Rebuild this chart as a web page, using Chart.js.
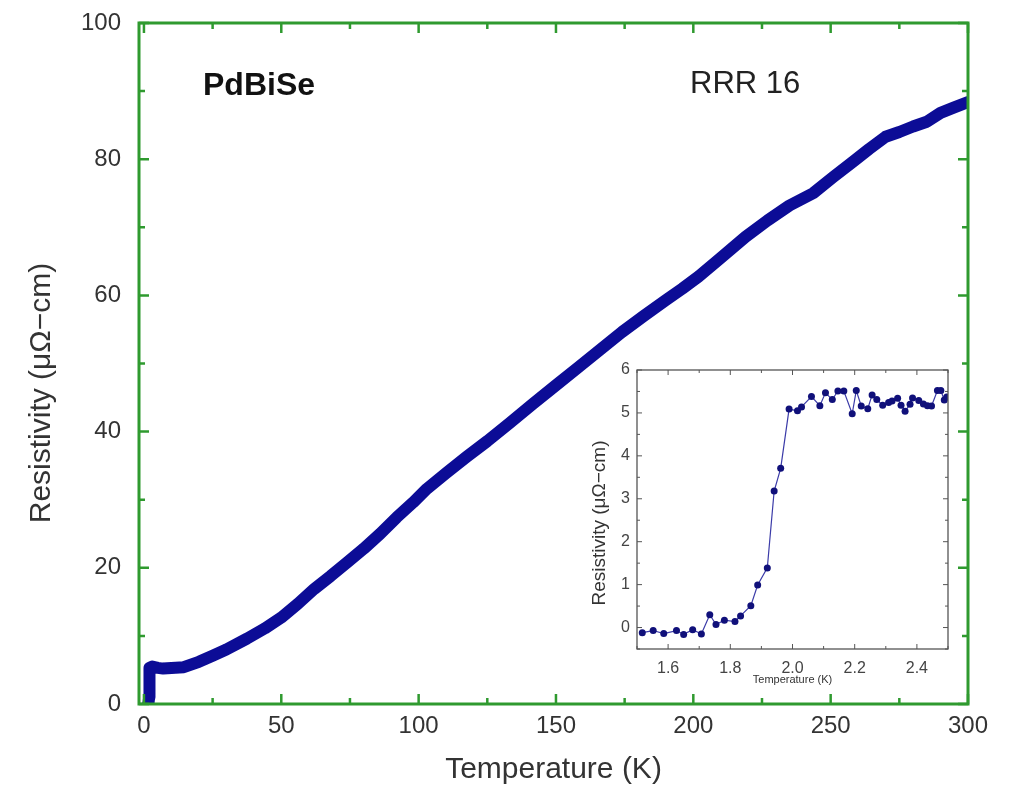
<!DOCTYPE html>
<html>
<head>
<meta charset="utf-8">
<script src="https://cdn.jsdelivr.net/npm/chart.js@4.4.0/dist/chart.umd.min.js"></script>
<style>
  html, body { margin: 0; padding: 0; background: #fff; }
  #wrap { position: relative; width: 1017px; height: 803px; }
  #mainChart { position: absolute; left: 0; top: 0; }
  #insetChart { position: absolute; left: 560px; top: 355px; }
</style>
</head>
<body>
<div id="wrap">
  <canvas id="mainChart" width="1017" height="803"></canvas>
  <canvas id="insetChart" width="400" height="340"></canvas>
</div>
<script>
// main curve (T in K, rho in uOhm-cm)
var mainTemp = [1.5, 1.6, 1.7, 1.8, 1.9, 1.95, 2.0, 2.1, 3, 5, 7, 10, 14.5, 20, 25, 30, 37.5, 44, 50, 56, 62, 68, 74, 80, 86, 92, 98, 103, 110, 117.5, 125, 133, 141.7, 150, 158, 166, 174, 182, 190, 196, 202, 210, 219, 227, 235, 243.6, 251, 258, 264, 270, 275, 280, 285, 290, 295, 300];
var mainRes = [0, 0, 0.1, 0.3, 1.0, 3.4, 4.5, 5.3, 5.5, 5.3, 5.2, 5.3, 5.4, 6.2, 7.1, 8.0, 9.6, 11.1, 12.7, 14.7, 16.9, 18.8, 20.8, 22.8, 25.0, 27.4, 29.6, 31.6, 33.9, 36.3, 38.6, 41.2, 44.1, 46.8, 49.4, 52.0, 54.6, 57.0, 59.3, 61.0, 62.8, 65.5, 68.6, 71.0, 73.2, 75.0, 77.4, 79.6, 81.5, 83.3, 84.0, 84.8, 85.5, 86.8, 87.6, 88.4];

// inset: superconducting transition
var insetTemp = [1.517, 1.552, 1.586, 1.627, 1.650, 1.679, 1.707, 1.734, 1.754, 1.781, 1.815, 1.833, 1.866, 1.888, 1.919, 1.941, 1.962, 1.989, 2.016, 2.029, 2.061, 2.088, 2.106, 2.128, 2.146, 2.165, 2.192, 2.205, 2.221, 2.242, 2.256, 2.271, 2.290, 2.309, 2.320, 2.338, 2.349, 2.362, 2.378, 2.386, 2.406, 2.421, 2.434, 2.447, 2.466, 2.477, 2.488, 2.496];
var insetRes = [-0.12, -0.07, -0.14, -0.07, -0.16, -0.05, -0.15, 0.30, 0.07, 0.17, 0.14, 0.27, 0.51, 0.99, 1.39, 3.18, 3.71, 5.09, 5.05, 5.14, 5.38, 5.17, 5.47, 5.31, 5.51, 5.51, 4.98, 5.52, 5.16, 5.10, 5.42, 5.31, 5.18, 5.24, 5.28, 5.34, 5.18, 5.04, 5.20, 5.35, 5.29, 5.21, 5.17, 5.16, 5.52, 5.52, 5.30, 5.37];

var mainXTicks = [0, 50, 100, 150, 200, 250, 300];
var mainYTicks = [0, 20, 40, 60, 80, 100];
var insetXTicks = [1.6, 1.8, 2.0, 2.2, 2.4];
var insetYTicks = [0, 1, 2, 3, 4, 5, 6];

var FONT = "'Liberation Sans', Arial, sans-serif";

function midpoints(arr, lo, hi) {
  var step = arr[1] - arr[0];
  var out = [];
  for (var v = arr[0] - step / 2; v <= hi + 1e-9; v += step) {
    if (v >= lo - 1e-9) out.push(v);
  }
  return out;
}

// frame with inward ticks on all four sides
function frameTicks(o) {
  return {
    id: o.id,
    afterDraw: function(chart) {
      var ctx = chart.ctx, a = chart.chartArea;
      var xs = chart.scales.x, ys = chart.scales.y;
      ctx.save();
      ctx.strokeStyle = o.color;
      ctx.lineWidth = o.tickWidth;
      ctx.beginPath();
      function xt(list, len) {
        list.forEach(function(v) {
          var p = xs.getPixelForValue(v);
          ctx.moveTo(p, a.bottom); ctx.lineTo(p, a.bottom - len);
          ctx.moveTo(p, a.top); ctx.lineTo(p, a.top + len);
        });
      }
      function yt(list, len) {
        list.forEach(function(v) {
          var p = ys.getPixelForValue(v);
          ctx.moveTo(a.left, p); ctx.lineTo(a.left + len, p);
          ctx.moveTo(a.right, p); ctx.lineTo(a.right - len, p);
        });
      }
      xt(o.xMajor, o.major); xt(o.xMinor, o.minor);
      yt(o.yMajor, o.major); yt(o.yMinor, o.minor);
      ctx.stroke();
      ctx.lineWidth = o.frameWidth;
      ctx.strokeRect(a.left, a.top, a.right - a.left, a.bottom - a.top);
      // y axis title
      ctx.fillStyle = o.textColor;
      ctx.font = o.yTitleFont;
      ctx.textAlign = 'center';
      ctx.textBaseline = 'middle';
      ctx.translate(o.yTitleX, o.yTitleY);
      ctx.rotate(-Math.PI / 2);
      ctx.fillText('Resistivity (μΩ−cm)', 0, 0);
      ctx.restore();
      if (o.extra) o.extra(ctx);
    }
  };
}

new Chart(document.getElementById('mainChart'), {
  type: 'line',
  data: {
    labels: mainTemp,
    datasets: [{
      data: mainTemp.map(function(t, i) { return { x: t, y: mainRes[i] }; }),
      borderColor: '#0c0c96',
      backgroundColor: '#0c0c96',
      borderWidth: 12,
      borderCapStyle: 'round',
      borderJoinStyle: 'round',
      pointRadius: 0,
      tension: 0
    }]
  },
  options: {
    responsive: false,
    animation: false,
    layout: { padding: { left: 0, top: 23, right: 49, bottom: 0 } },
    plugins: { legend: { display: false }, tooltip: { enabled: false } },
    scales: {
      x: {
        type: 'linear', min: -1.8, max: 300,
        afterBuildTicks: function(s) { s.ticks = mainXTicks.map(function(v) { return { value: v }; }); },
        afterFit: function(s) { s.height = 99; },
        grid: { display: false, drawTicks: false },
        border: { display: false },
        ticks: { color: '#333', padding: 8, font: { family: FONT, size: 24 } },
        title: { display: true, text: 'Temperature (K)', color: '#333', padding: { top: 0, bottom: 15 }, font: { family: FONT, size: 30 } }
      },
      y: {
        type: 'linear', min: 0, max: 100,
        afterBuildTicks: function(s) { s.ticks = mainYTicks.map(function(v) { return { value: v }; }); },
        afterFit: function(s) { s.width = 139; s.paddingTop = 0; s.paddingBottom = 0; },
        grid: { display: false, drawTicks: false },
        border: { display: false },
        ticks: { color: '#333', padding: 18, font: { family: FONT, size: 24 } }
      }
    }
  },
  plugins: [frameTicks({
    id: 'mainFrame', color: '#2f9a2f', tickWidth: 2.5, frameWidth: 3, major: 10, minor: 6,
    xMajor: mainXTicks, xMinor: midpoints(mainXTicks, 0, 300),
    yMajor: mainYTicks, yMinor: midpoints(mainYTicks, 0, 100),
    textColor: '#333', yTitleFont: '30px ' + FONT, yTitleX: 42, yTitleY: 393,
    extra: function(ctx) {
      ctx.save();
      ctx.textBaseline = 'middle';
      ctx.textAlign = 'left';
      ctx.fillStyle = '#111';
      ctx.font = 'bold 32px ' + FONT;
      ctx.fillText('PdBiSe', 203, 86);
      ctx.fillStyle = '#222';
      ctx.font = '31px ' + FONT;
      ctx.fillText('RRR 16', 690, 84);
      ctx.restore();
    }
  })]
});

new Chart(document.getElementById('insetChart'), {
  type: 'line',
  data: {
    labels: insetTemp,
    datasets: [{
      data: insetTemp.map(function(t, i) { return { x: t, y: insetRes[i] }; }),
      borderColor: '#3b3ba8',
      backgroundColor: '#10107a',
      borderWidth: 1.2,
      pointRadius: 3.5,
      pointBorderWidth: 0,
      tension: 0
    }]
  },
  options: {
    responsive: false,
    animation: false,
    layout: { padding: { left: 0, top: 15, right: 12, bottom: 0 } },
    plugins: { legend: { display: false }, tooltip: { enabled: false } },
    scales: {
      x: {
        type: 'linear', min: 1.5, max: 2.5,
        afterBuildTicks: function(s) { s.ticks = insetXTicks.map(function(v) { return { value: v }; }); },
        afterFit: function(s) { s.height = 46; },
        grid: { display: false, drawTicks: false },
        border: { display: false },
        ticks: { color: '#444', padding: 10, font: { family: FONT, size: 16 }, callback: function(v) { return Number(v).toFixed(1); } },
        title: { display: true, text: 'Temperature (K)', color: '#333', padding: { top: 0, bottom: 8 }, font: { family: FONT, size: 11 } }
      },
      y: {
        type: 'linear', min: -0.5, max: 6,
        afterBuildTicks: function(s) { s.ticks = insetYTicks.map(function(v) { return { value: v }; }); },
        afterFit: function(s) { s.width = 77; s.paddingTop = 0; s.paddingBottom = 0; },
        grid: { display: false, drawTicks: false },
        border: { display: false },
        ticks: { color: '#444', padding: 7, font: { family: FONT, size: 16 } }
      }
    }
  },
  plugins: [frameTicks({
    id: 'insetFrame', color: '#555', tickWidth: 1, frameWidth: 1.3, major: 5, minor: 3,
    xMajor: insetXTicks, xMinor: midpoints(insetXTicks, 1.5, 2.5),
    yMajor: insetYTicks, yMinor: midpoints(insetYTicks, -0.5, 6),
    textColor: '#333', yTitleFont: '19px ' + FONT, yTitleX: 40, yTitleY: 168
  })]
});
</script>
</body>
</html>
